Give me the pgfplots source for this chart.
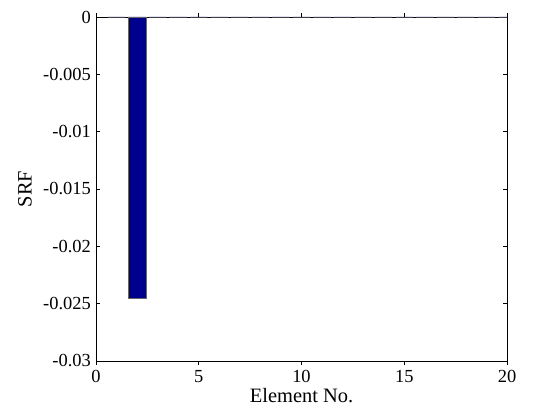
\documentclass[border=0pt]{standalone}
\usepackage{pgfplots}
\pgfplotsset{compat=1.18}
\usepackage{fontspec}
\setmainfont{Liberation Serif}
\definecolor{barblue}{rgb}{0,0,0.5625}
\begin{document}
\begin{tikzpicture}
\useasboundingbox (-96bp,-50bp) rectangle (441bp,361bp);
\begin{axis}[
  at={(0,0)}, anchor=south west,
  scale only axis, width=411bp, height=344bp,
  xmin=0, xmax=20, ymin=-0.03, ymax=0,
  scaled y ticks=false, scaled x ticks=false,
  xtick={0,5,10,15,20}, xticklabels={0,5,10,15,20},
  ytick={-0.03,-0.025,-0.02,-0.015,-0.01,-0.005,0},
  yticklabels={-0.03,-0.025,-0.02,-0.015,-0.01,-0.005,0},
  tick pos=both, tick align=inside,
  major tick length=4bp,
  axis line style={line width=0.8pt},
  every tick/.style={black, line width=0.5pt},
  tick label style={font=\fontsize{18.5}{21}\selectfont, inner sep=0pt},
  xticklabel style={yshift=-5bp},
  yticklabel style={xshift=-5bp},
  label style={font=\fontsize{20.5}{23}\selectfont},
  xlabel={Element No.}, ylabel={SRF},
  xlabel style={at={(axis description cs:0.5,-0.1192)}, anchor=base},
  ylabel style={at={(axis description cs:-0.1727,0.5)}, anchor=center},
  ybar, bar width=0.85, bar shift=0pt,
]
\addplot[fill=barblue, draw=black!60, line width=0.4pt] coordinates {
 (1,0) (2,-0.0245) (3,0) (4,0) (5,0) (6,0) (7,0) (8,0) (9,0) (10,0)
 (11,0) (12,0) (13,0) (14,0) (15,0) (16,0) (17,0) (18,0) (19,0) (20,0)
};
\end{axis}
\end{tikzpicture}
\end{document}
